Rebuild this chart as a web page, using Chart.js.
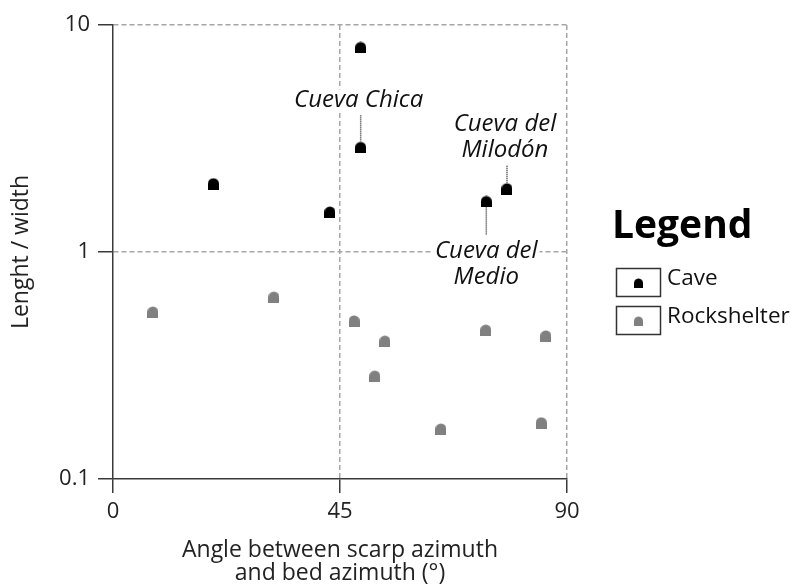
<!DOCTYPE html>
<html>
<head>
<meta charset="utf-8">
<script src="https://cdn.jsdelivr.net/npm/chart.js@4/dist/chart.umd.min.js"></script>
<style>
  html, body { margin: 0; padding: 0; background: #fff; }
</style>
</head>
<body>
<canvas id="mainChart" width="794" height="587"></canvas>
<script>
// data
const caveAngle = [49.1, 49.1, 19.9, 43.0, 74.0, 78.1];
const caveRatio = [7.96, 2.89, 2.0, 1.5, 1.67, 1.9];
const shelterAngle = [7.9, 31.9, 47.8, 53.9, 51.9, 65.0, 73.9, 85.8, 84.9];
const shelterRatio = [0.544, 0.633, 0.497, 0.405, 0.284, 0.166, 0.453, 0.427, 0.177];
const xTicks = [0, 45, 90];
const yTicks = [0.1, 1, 10];

const FONT = "'Open Sans', sans-serif";

function bell(w, h, color) {
  var c = document.createElement('canvas');
  c.width = w; c.height = h;
  var g = c.getContext('2d');
  var r = w / 2;
  g.fillStyle = color;
  g.beginPath();
  g.moveTo(0, h);
  g.lineTo(0, r + 0.5);
  g.arc(r, r + 0.5, r, Math.PI, 0);
  g.lineTo(w, h);
  g.closePath();
  g.fill();
  return c;
}

const caveMark = bell(11, 12, '#000');
const shelterMark = bell(11, 12, '#808080');

function toPoints(xs, ys) {
  return xs.map(function(x, i) { return {x: x, y: ys[i]}; });
}

// labels hanging off cave points (index into cave series)
const notes = [
  {index: 1, lines: ['Cueva Chica'], dx: -2, textY: -47, from: -32, to: -6},
  {index: 5, lines: ['Cueva del', 'Milodón'], dx: -2, textY: -65, from: -23, to: -6},
  {index: 4, lines: ['Cueva del', 'Medio'], dx: 0, textY: 50, from: 6, to: 33}
];

Chart.register({
  id: 'notes',
  afterDatasetsDraw: function(chart) {
    var ctx = chart.ctx;
    var meta = chart.getDatasetMeta(0);
    ctx.save();
    ctx.font = 'italic 24px ' + FONT;
    ctx.textAlign = 'center';
    ctx.textBaseline = 'middle';
    notes.forEach(function(n) {
      var p = meta.data[n.index];
      // dotted leader
      ctx.strokeStyle = '#333';
      ctx.lineWidth = 1.5;
      ctx.setLineDash([1, 1]);
      ctx.beginPath();
      ctx.moveTo(p.x, p.y + n.from);
      ctx.lineTo(p.x, p.y + n.to);
      ctx.stroke();
      ctx.setLineDash([]);
      n.lines.forEach(function(t, k) {
        var y = p.y + n.textY + k * 26;
        var w = ctx.measureText(t).width;
        ctx.fillStyle = '#fff';
        ctx.fillRect(p.x + n.dx - w / 2 - 2, y - 11, w + 4, 22);
        ctx.fillStyle = '#111';
        ctx.fillText(t, p.x + n.dx, y);
      });
    });
    ctx.restore();
  },
  afterDraw: function(chart) {
    var ctx = chart.ctx;
    ctx.save();
    ctx.fillStyle = '#000';
    ctx.textAlign = 'left';
    ctx.textBaseline = 'alphabetic';
    ctx.font = 'bold 39px ' + FONT;
    ctx.fillText('Legend', 612, 238);
    var items = [['Cave', caveMark, 268], ['Rockshelter', shelterMark, 306]];
    items.forEach(function(it) {
      ctx.strokeStyle = '#333';
      ctx.lineWidth = 1.5;
      ctx.strokeRect(616.5, it[2] + 0.5, 44, 28);
      ctx.drawImage(it[1], 0, 0, 11, 12, 634, it[2] + 10, 9, 10);
      ctx.fillStyle = '#111';
      ctx.font = '22.5px ' + FONT;
      ctx.fillText(it[0], 667, it[2] + 17);
    });
    ctx.restore();
  }
});

const axisColor = '#3a3a3a';
const gridColor = '#a6a6a6';

const config = {
  type: 'scatter',
  data: {
    datasets: [{
      label: 'Cave',
      data: toPoints(caveAngle, caveRatio),
      pointStyle: caveMark,
      pointRadius: 6
    }, {
      label: 'Rockshelter',
      data: toPoints(shelterAngle, shelterRatio),
      pointStyle: shelterMark,
      pointRadius: 6
    }]
  },
  options: {
    responsive: false,
    animation: false,
    devicePixelRatio: 1,
    layout: { padding: { top: 25, right: 227, bottom: 0, left: 0 } },
    plugins: { legend: { display: false }, tooltip: { enabled: false } },
    scales: {
      x: {
        type: 'linear',
        min: 0,
        max: 90,
        afterBuildTicks: function(s) { s.ticks = xTicks.map(function(v) { return {value: v}; }); },
        afterFit: function(s) { s.height = 108; },
        grid: {
          color: function(c) { return c.tick && c.tick.value === 0 ? 'rgba(0,0,0,0)' : gridColor; },
          lineWidth: 1.5,
          tickColor: axisColor,
          tickWidth: 1.5,
          tickLength: 14
        },
        border: { color: axisColor, width: 1.5, dash: [5, 3] },
        ticks: { color: '#222', font: { family: FONT, size: 22 }, padding: 6, maxRotation: 0 },
        title: {
          display: true,
          text: ['Angle between scarp azimuth', 'and bed azimuth (°)'],
          color: '#222',
          font: { family: FONT, size: 23, lineHeight: 1.0 },
          padding: { top: 0, bottom: 2 }
        }
      },
      y: {
        type: 'logarithmic',
        min: 0.1,
        max: 10,
        afterBuildTicks: function(s) { s.ticks = yTicks.map(function(v) { return {value: v}; }); },
        afterFit: function(s) { s.width = 113; },
        grid: {
          color: function(c) { return c.tick && c.tick.value === 0.1 ? 'rgba(0,0,0,0)' : gridColor; },
          lineWidth: 1.5,
          tickColor: axisColor,
          tickWidth: 1.5,
          tickLength: 15
        },
        border: { color: axisColor, width: 1.5, dash: [5, 3] },
        ticks: {
          color: '#222',
          font: { family: FONT, size: 22 },
          padding: 8,
          callback: function(v) { return String(v); }
        },
        title: {
          display: true,
          text: 'Lenght / width',
          color: '#222',
          font: { family: FONT, size: 23, lineHeight: 1.0 },
          padding: { top: 10, bottom: 0 }
        }
      }
    }
  }
};

const myChart = new Chart(document.getElementById('mainChart'), config);
</script>
</body>
</html>
